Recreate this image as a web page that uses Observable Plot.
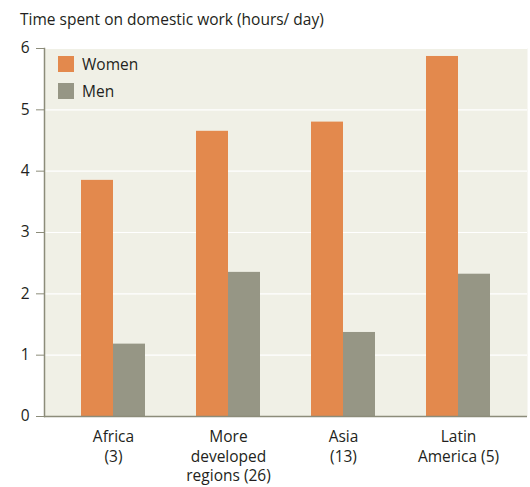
<!DOCTYPE html>
<html>
<head>
<meta charset="utf-8">
<script src="https://cdn.jsdelivr.net/npm/d3@7"></script>
<script src="https://cdn.jsdelivr.net/npm/@observablehq/plot@0.6"></script>
<style>
  body { margin: 0; background: #ffffff; font-family: "Open Sans", sans-serif; color: #231f20; }
  #wrap { position: relative; width: 530px; height: 487px; }
  #title { height: 38px; box-sizing: border-box; padding: 9px 0 0 20px; font-size: 15.5px; line-height: 20px; white-space: nowrap; }
  .legend { position: absolute; left: 58px; font-size: 15.5px; line-height: 16px; display: flex; align-items: center; }
  .legend .sw { width: 16px; height: 16px; margin-right: 8px; }
  svg { display: block; overflow: visible; }
</style>
</head>
<body>
<div id="wrap">
  <div id="title">Time spent on domestic work (hours/ day)</div>
  <div id="chart"></div>
</div>
<script>
// Regions (number of countries in brackets)
const regions = ["Africa\n(3)", "More\ndeveloped\nregions (26)", "Asia\n(13)", "Latin\nAmerica (5)"];
// Average hours per day spent on domestic work
const women = [3.85, 4.65, 4.80, 5.87];
const men = [1.18, 2.35, 1.37, 2.32];
const yTicks = [0, 1, 2, 3, 4, 5, 6];
const series = ["Women", "Men"];
const colors = ["#e3894d", "#969685"];

const rows = regions.flatMap((region, i) => [
  {region, sex: series[0], value: women[i]},
  {region, sex: series[1], value: men[i]}
]);

const axisGray = "#8c8c7a";

const plot = Plot.plot({
  width: 530,
  height: 449,
  marginTop: 10,
  marginBottom: 71,
  marginLeft: 44,
  marginRight: 3,
  style: {fontFamily: "Open Sans, sans-serif", fontSize: "15.5px", color: "#231f20", background: "transparent"},
  x: {domain: regions, paddingInner: 0.443, paddingOuter: 0.32, label: null},
  y: {domain: [0, 6], label: null},
  color: {domain: series, range: colors},
  marks: [
    Plot.frame({fill: "#f0f0e6", stroke: null}),
    Plot.gridY(yTicks, {stroke: "#ffffff", strokeOpacity: 1, strokeWidth: 1.2}),
    Plot.barY(rows.filter(d => d.sex === "Women"), {x: "region", y: "value", fill: "sex", insetRight: 32}),
    Plot.barY(rows.filter(d => d.sex === "Men"), {x: "region", y: "value", fill: "sex", insetLeft: 32}),
    Plot.axisY(yTicks, {tickSize: 8, tickPadding: 7, tickFormat: d3.format("d"), stroke: axisGray, strokeOpacity: 1, fontSize: "15.5px", label: null}),
    Plot.axisX({tickSize: 0, tickPadding: 12, lineHeight: 1.25, fontSize: "15.5px", label: null}),
    Plot.frame({anchor: "left", stroke: axisGray, strokeWidth: 1.5}),
    Plot.ruleY([0], {stroke: axisGray, strokeWidth: 1.5})
  ]
});
document.getElementById("chart").appendChild(plot);

// Legend inside the plot area
const wrap = document.getElementById("wrap");
series.forEach((s, i) => {
  const item = document.createElement("div");
  item.className = "legend";
  item.style.top = (56 + i * 27) + "px";
  item.innerHTML = `<span class="sw" style="background:${colors[i]}"></span><span>${s}</span>`;
  wrap.appendChild(item);
});
</script>
</body>
</html>
